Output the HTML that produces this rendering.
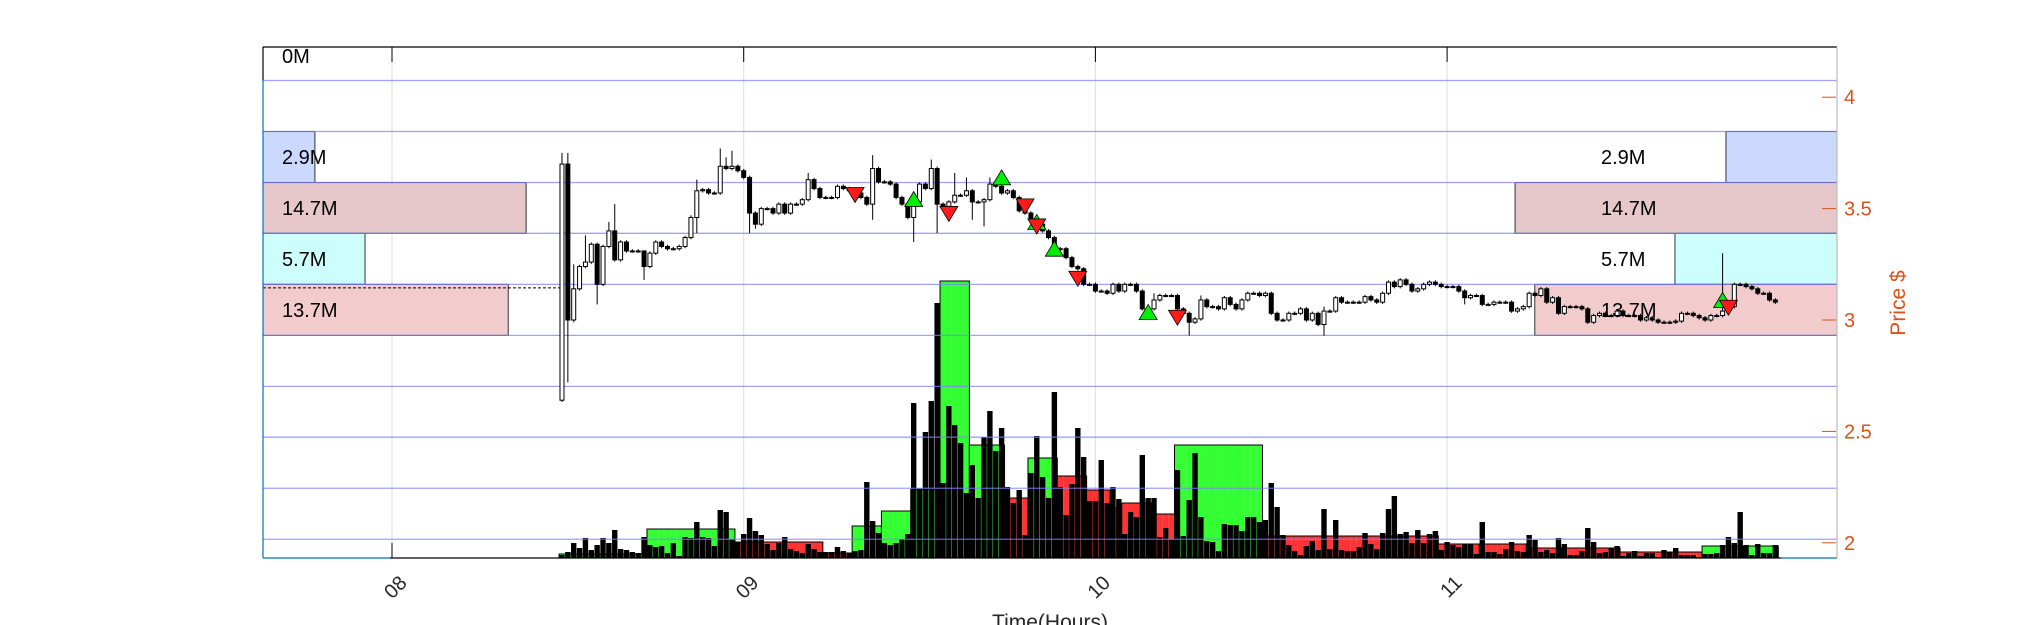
<!DOCTYPE html>
<html><head><meta charset="utf-8"><style>
html,body{margin:0;padding:0;background:#fff;}
svg{display:block;font-family:"Liberation Sans",sans-serif;}
</style></head><body>
<svg id="c" width="2031" height="625" viewBox="0 0 2031 625" xmlns="http://www.w3.org/2000/svg"></svg>
<script>
const hourTicks=[8,9,10,11];
const hourLabels=["08","09","10","11"];
const priceTicks=[2,2.5,3,3.5,4];
const priceTickLabels=["2","2.5","3","3.5","4"];
const profileEdges=[4.304,4.075,3.846,3.617,3.389,3.160,2.931,2.702,2.474,2.245,2.016];
const profileLabels=["0M","2.9M","14.7M","5.7M","13.7M"];
const profileLeftM=[0,2.9,14.7,5.7,13.7];
const profileRightM=[0,5.07,14.7,7.4,13.8];
const profileColors=["#ffffff","#ccd9ff","#e6c8cb","#ccfffb","#f2cccc"];
const startMinute=29; // 08:29
const firstOpen=2.64;
const closes=[3.70,3.00,3.14,3.24,3.26,3.34,3.16,3.33,3.40,3.27,3.35,3.31,3.31,3.31,3.24,3.30,3.35,3.33,3.32,3.32,
3.33,3.37,3.46,3.58,3.585,3.57,3.57,3.69,3.68,3.69,3.67,3.64,3.48,3.43,3.50,3.50,3.48,3.52,3.48,3.52,
3.52,3.54,3.63,3.59,3.55,3.55,3.55,3.60,3.59,3.58,3.57,3.55,3.52,3.68,3.62,3.62,3.61,3.55,3.52,3.46,
3.53,3.61,3.59,3.68,3.52,3.51,3.53,3.56,3.56,3.58,3.53,3.53,3.54,3.61,3.60,3.57,3.58,3.55,3.49,3.48,
3.45,3.43,3.40,3.37,3.32,3.32,3.28,3.24,3.23,3.16,3.16,3.13,3.13,3.12,3.16,3.13,3.16,3.16,3.13,3.05,
3.05,3.09,3.11,3.11,3.11,3.05,3.03,2.99,3.005,3.09,3.06,3.06,3.05,3.10,3.07,3.05,3.09,3.12,3.12,3.11,
3.12,3.03,3.00,3.00,3.03,3.03,3.05,3.00,3.03,2.98,3.04,3.04,3.10,3.08,3.08,3.08,3.08,3.105,3.09,3.08,
3.12,3.17,3.15,3.18,3.16,3.13,3.14,3.16,3.17,3.16,3.15,3.15,3.15,3.13,3.10,3.11,3.11,3.07,3.07,3.08,
3.08,3.08,3.04,3.05,3.06,3.12,3.11,3.14,3.08,3.10,3.03,3.06,3.06,3.06,3.05,2.99,3.02,3.03,3.02,3.02,
3.04,3.02,3.02,3.02,3.00,3.01,3.00,2.99,2.99,2.99,2.995,3.03,3.03,3.02,3.01,3.00,3.02,3.02,3.04,3.06,
3.16,3.16,3.15,3.14,3.12,3.12,3.09,3.08];
const wickHigh={1:3.75,2:3.75,3:3.25,5:3.38,9:3.44,10:3.52,15:3.30,23:3.47,24:3.63,28:3.77,29:3.73,30:3.76,43:3.66,54:3.74,61:3.56,64:3.72,68:3.66,70:3.64,74:3.64,76:3.66,102:3.12,110:3.11,131:3.06,199:3.30};
const wickLow={2:2.72,3:2.99,7:3.07,15:3.18,24:3.39,33:3.39,34:3.41,54:3.45,61:3.35,65:3.39,71:3.45,73:3.42,108:2.93,131:2.93,155:3.07};
const volumes=[3,6,15,10,20,8,13,20,15,28,9,8,6,5,21,13,11,12,5,15,
2,21,20,36,21,20,12,48,46,19,16,24,40,27,23,14,8,15,21,9,
7,5,14,9,6,6,6,11,7,5,7,8,76,37,25,15,13,15,19,24,
155,69,126,157,255,75,152,133,115,65,93,60,121,147,107,130,71,55,68,23,
85,122,81,60,166,71,43,74,130,101,57,57,98,55,71,59,24,46,41,103,
60,60,21,30,19,88,22,58,105,41,17,16,7,34,33,33,27,41,41,36,
38,75,51,23,13,7,3,12,17,8,49,9,38,8,7,7,11,25,14,9,
25,49,62,24,26,15,28,15,24,27,8,16,13,11,14,14,4,36,6,6,
4,9,16,7,6,23,18,6,8,5,20,14,3,3,7,30,16,5,6,10,
12,2,5,7,2,5,5,1,8,6,10,3,3,3,1,4,4,5,13,21,
15,46,13,3,14,5,5,13];
const groupStart=[1,16,31,46,51,56,61,66,71,77,81,86,91,95,97,102,106,121,151,158,166,172,182,196,203];
const groupEnd=[15,30,45,50,55,60,65,70,76,80,85,90,94,96,101,105,120,150,157,165,171,181,195,202,208];
const groupLevel=[4,29,16,5,32,47,69,277,113,60,100,82,68,50,55,44,113,22,14,14,10,10,6,12,12];
const groupSide=["b","b","s","s","b","b","b","b","b","s","b","s","s","s","s","s","b","s","s","s","s","s","s","b","b"];
const signalIdx=[51,61,67,76,80,82,82,85,89,101,106,199,200];
const signalPrice=[3.561,3.543,3.476,3.64,3.51,3.44,3.42,3.32,3.185,3.036,3.01,3.09,3.055];
const signalSide=["s","b","s","b","s","b","s","b","s","b","s","b","s"];
const refPrice=3.144;

const L=263,R=1837,T=47,B=558;
const xH=h=>392+(h-8)*351.7;
const xC=i=>xH(8+(startMinute+i-1)/60);
const yP=p=>320-(p-3)*222.8;
const yV=v=>B-v*1.0;
const pxPerM=17.9, pxPerMR=21.9;
const NS="http://www.w3.org/2000/svg";
const svg=document.getElementById('c');
function mk(tag,attrs,parent){const e=document.createElementNS(NS,tag);for(const k in attrs)e.setAttribute(k,attrs[k]);(parent||svg).appendChild(e);return e;}

hourTicks.forEach((h,k)=>{
  const g=mk('line',{x1:xH(h),x2:xH(h),y1:T,y2:B,stroke:'#dddddd','stroke-width':1});
  
  
});
function rowTop(k){return k===0?T:yP(profileEdges[k+1]);}
function rowBot(k){return yP(profileEdges[k+2]);}
for(let k=1;k<profileLabels.length;k++){
  const y1=rowTop(k),y2=rowBot(k);
  const wl=profileLeftM[k]*pxPerM;
  const r=mk('rect',{x:L,y:y1,width:wl,height:y2-y1,fill:profileColors[k],stroke:'#333','stroke-width':1});
  
  
  const wr=profileRightM[k]*pxPerMR;
  const r2=mk('rect',{x:R-wr,y:y1,width:wr,height:y2-y1,fill:profileColors[k],stroke:'#333','stroke-width':1});
  
  
}
const cw=5.9;
groupStart.forEach((s,g)=>{
  const col=groupSide[g]==='b'?'#33ff33':'#ff3333';
  for(let i=s;i<=groupEnd[g];i++){
    const r=mk('rect',{x:xC(i)-cw/2,y:yV(groupLevel[g]),width:cw,height:B-yV(groupLevel[g]),fill:col});
    
    
  }
  const o=mk('rect',{x:xC(s)-cw/2,y:yV(groupLevel[g]),width:xC(groupEnd[g])-xC(s)+cw,height:B-yV(groupLevel[g]),fill:'none',stroke:'#000','stroke-width':1});
  
  
});
volumes.forEach((v,k)=>{
  const i=k+1;
  const r=mk('rect',{x:xC(i)-2.7,y:yV(v),width:5.4,height:B-yV(v),fill:'#000'});
  
  
});
for(let k=1;k<profileEdges.length;k++){
  const y=yP(profileEdges[k]);
  const g=mk('line',{x1:L,x2:R,y1:y,y2:y,stroke:'#8080ff','stroke-opacity':0.75,'stroke-width':1.3});
  
  
}
const dl=mk('line',{x1:L,x2:xC(1)-2,y1:yP(refPrice),y2:yP(refPrice),stroke:'#000','stroke-width':1,'stroke-dasharray':'3,2'});


closes.forEach((c,k)=>{
  const i=k+1;
  const o=k===0?firstOpen:closes[k-1];
  const hi=wickHigh[i]!==undefined?wickHigh[i]:Math.max(o,c)+0.008;
  const lo=wickLow[i]!==undefined?wickLow[i]:Math.min(o,c)-0.008;
  const x=xC(i);
  const w=mk('line',{x1:x,x2:x,y1:yP(hi),y2:yP(lo),stroke:'#000','stroke-width':1});
  
  
  const top=yP(Math.max(o,c)),bot=yP(Math.min(o,c));
  const b=mk('rect',{x:x-2,y:top,width:4,height:Math.max(bot-top,1),fill:c>o?'#fff':'#000',stroke:'#000','stroke-width':1});
  
  
});
signalIdx.forEach((i,k)=>{
  const x=xC(i),y=yP(signalPrice[k]);
  const pts=signalSide[k]==='b'?`${x-9},${y+7.5} ${x+9},${y+7.5} ${x},${y-7.5}`:`${x-9},${y-7.5} ${x+9},${y-7.5} ${x},${y+7.5}`;
  const t=mk('polygon',{points:pts,fill:signalSide[k]==='b'?'#00ee00':'#ff1a1a',stroke:'#000','stroke-width':0.8});
  
  
});
for(let k=0;k<profileLabels.length;k++){
  const yc=k===0?56:(rowTop(k)+rowBot(k))/2;
  const t=mk('text',{x:282,y:yc+7,'font-size':20,fill:'#000'});t.textContent=profileLabels[k];
  
  
  if(k>0){
    const t2=mk('text',{x:1601,y:yc+7,'font-size':20,fill:'#000'});t2.textContent=profileLabels[k];
    
    
  }
}
const frame=[[L,T,R,T,'#000'],[L,T,L,80,'#000'],[L,80,L,B,'#0072BD'],[L,B,390,B,'#0072BD'],[390,B,1781,B,'#000'],[1781,B,R,B,'#0072BD'],[R,T,R,B,'#bbbbbb']];
frame.forEach(f=>{
  const l=mk('line',{x1:f[0],y1:f[1],x2:f[2],y2:f[3],stroke:f[4],'stroke-width':1.2});
  
  
});
hourTicks.forEach((h,k)=>{
  const x=xH(h);
  const tk=mk('line',{x1:x,x2:x,y1:T,y2:T+15,stroke:'#000','stroke-width':1});
  
  
  const t=mk('text',{x:x+16,y:584,'font-size':20,fill:'#262626','text-anchor':'end',transform:`rotate(-45 ${x+16} 584)`});
  t.textContent=hourLabels[k];
  
  
});
const bt=mk('line',{x1:xH(8),x2:xH(8),y1:B-15,y2:B,stroke:'#000','stroke-width':1});


const xt=mk('text',{x:1050,y:629,'font-size':21,fill:'#262626','text-anchor':'middle'});xt.textContent='Time(Hours)';


priceTicks.forEach((p,k)=>{
  const y=yP(p);
  const tk=mk('line',{x1:R-15,x2:R-1,y1:y,y2:y,stroke:'#D95319','stroke-width':1});
  
  
  const t=mk('text',{x:1844,y:y+7,'font-size':20,fill:'#D95319'});t.textContent=priceTickLabels[k];
  
  
});
const yt=mk('text',{x:1905,y:303,'font-size':21,fill:'#D95319','text-anchor':'middle',transform:'rotate(-90 1905 303)'});yt.textContent='Price $';


</script>
</body></html>
